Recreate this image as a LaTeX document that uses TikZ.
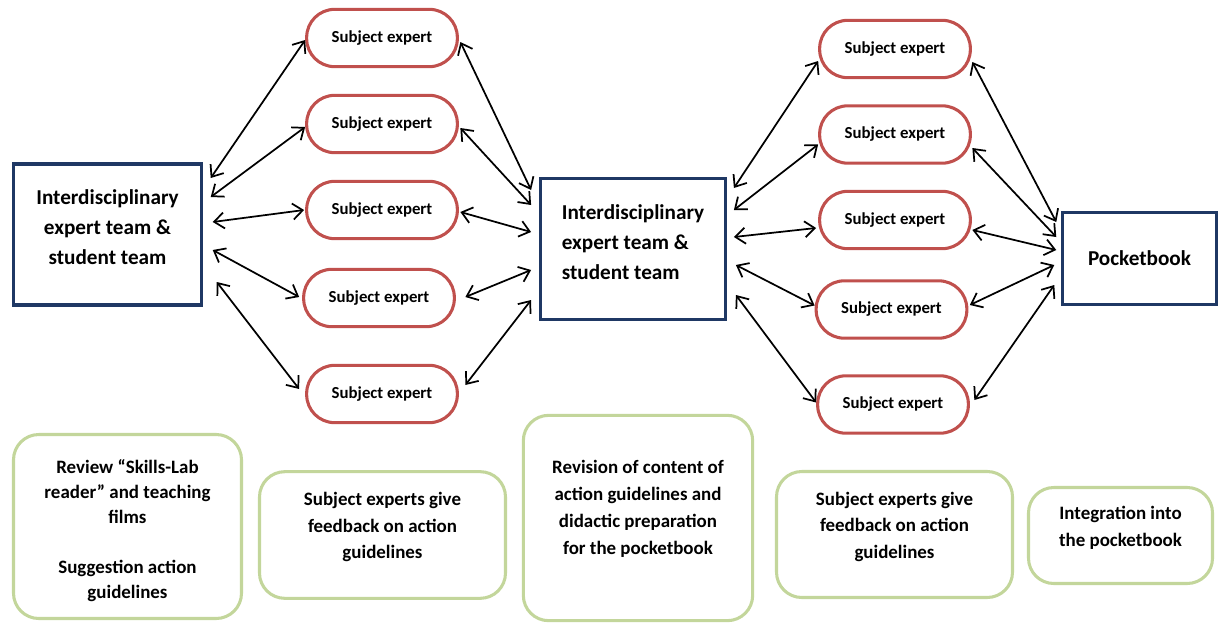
\documentclass[tikz,border=0pt]{standalone}
\usepackage{fontspec}
\setmainfont{Carlito}
\usetikzlibrary{arrows.meta,calc}

\definecolor{blu}{RGB}{31,56,100}
\definecolor{rosso}{RGB}{192,80,77}
\definecolor{verde}{RGB}{195,214,155}

\newcommand{\giu}{\rule[-14pt]{0pt}{14pt}}
\newcommand{\su}{\rule[-11pt]{0pt}{11pt}}

\tikzset{
  team/.style={draw=blu, line width=2.6pt, minimum width=141pt, minimum height=106pt,
    font=\fontsize{15.9}{22.5}\selectfont\bfseries},
  esperto/.style={draw=rosso, line width=2.3pt, rounded corners=21pt,
    minimum width=113pt, minimum height=43pt, font=\fontsize{12.6}{14}\selectfont\bfseries},
  fase/.style={draw=verde, line width=2.3pt, rounded corners=19pt, align=center,
    font=\fontsize{14.2}{20}\selectfont\bfseries},
  freccia/.style={line width=1.3pt,
    {Straight Barb[length=7.5pt,width=12pt]}-{Straight Barb[length=7.5pt,width=12pt]}}
}

\begin{document}
\begin{tikzpicture}[x=0.75pt, y=-0.75pt]
  \useasboundingbox (0,0) rectangle (1220,625);

  % gruppi di esperti
  \node[team, align=center] (L) at (107.5,234.5) {Interdisciplinary\\expert team \&\\student team\su};
  \node[team, align=left, minimum width=139pt] (M) at (633,249) {Interdisciplinary\\expert team \&\\student team\su};
  \node[team, minimum width=115.5pt, minimum height=69pt] (P) at (1139.5,258.5) {Pocketbook};

  % esperti a sinistra
  \node[esperto] (S1) at (382,38) {Subject expert};
  \node[esperto] (S2) at (382,124) {Subject expert};
  \node[esperto] (S3) at (382,210) {Subject expert};
  \node[esperto] (S4) at (379,298) {Subject expert};
  \node[esperto] (S5) at (382,394) {Subject expert};

  % esperti a destra
  \node[esperto] (R1) at (895,49) {Subject expert};
  \node[esperto] (R2) at (895,134.5) {Subject expert};
  \node[esperto] (R3) at (895,220) {Subject expert};
  \node[esperto] (R4) at (891.5,309.5) {Subject expert};
  \node[esperto] (R5) at (893,404.5) {Subject expert};

  % frecce L - esperti
  \draw[freccia] ($(L.east)+(7.5,-56.5)$) -- ($(S1.west)+(0,2)$);
  \draw[freccia] ($(L.east)+(7.5,-37.5)$) -- ($(S2.west)+(0,3)$);
  \draw[freccia] ($(L.east)+(9.5,-12.5)$) -- ($(S3.west)+(-1,0)$);
  \draw[freccia] ($(L.east)+(9.5,15.5)$) -- ($(S4.west)+(-3,-1)$);
  \draw[freccia] ($(L.east)+(13.5,47.5)$) -- ($(S5.west)+(-6,-5)$);

  % frecce esperti - M
  \draw[freccia] ($(S1.east)+(1.5,4)$) -- ($(M.west)+(-7.5,-59)$);
  \draw[freccia] ($(S2.east)+(1.5,4)$) -- ($(M.west)+(-7.5,-44)$);
  \draw[freccia] ($(S3.east)+(1.5,2)$) -- ($(M.west)+(-7.5,-17)$);
  \draw[freccia] ($(S4.east)+(9.5,-1)$) -- ($(M.west)+(-7.5,21)$);
  \draw[freccia] ($(S5.east)+(6.5,-9)$) -- ($(M.west)+(-7.5,51)$);

  % frecce M - esperti
  \draw[freccia] ($(M.east)+(6.5,-61)$) -- ($(R1.west)+(0,12)$);
  \draw[freccia] ($(M.east)+(6.5,-39)$) -- ($(R2.west)+(0,10)$);
  \draw[freccia] ($(M.east)+(6.5,-12)$) -- ($(R3.west)+(-2,8)$);
  \draw[freccia] ($(M.east)+(8.5,16)$) -- ($(R4.west)+(0,-4)$);
  \draw[freccia] ($(M.east)+(8.5,46)$) -- ($(R5.west)+(0,-2)$);

  % frecce esperti - P
  \draw[freccia] ($(R1.east)+(0.5,13)$) -- ($(P.west)+(-4.5,-36.5)$);
  \draw[freccia] ($(R2.east)+(0.5,13.5)$) -- ($(P.west)+(-4.5,-21.5)$);
  \draw[freccia] ($(R3.east)+(0.5,10)$) -- ($(P.west)+(-4.5,-8.5)$);
  \draw[freccia] ($(R4.east)+(1.5,-4.5)$) -- ($(P.west)+(-6.5,6.5)$);
  \draw[freccia] ($(R5.east)+(4.5,-4.5)$) -- ($(P.west)+(-6.5,26.5)$);

  % fasi
  \node[fase, minimum width=171pt, minimum height=138pt, font=\fontsize{14.2}{18.75}\selectfont\bfseries] (G1) at (127.5,526.5)
    {\rule{0pt}{16pt}Review “Skills-Lab\\reader” and teaching\\films\\[18.75pt]Suggestion action\\guidelines};
  \node[fase, minimum width=184.5pt, minimum height=95pt] (G2) at (382.5,535)
    {Subject experts give\\feedback on action\\guidelines\giu};
  \node[fase, minimum width=172pt, minimum height=154pt, font=\fontsize{14.2}{20.3}\selectfont\bfseries] (G3) at (638,518)
    {Revision of content of\\action guidelines and\\didactic preparation\\for the pocketbook\rule[-16pt]{0pt}{16pt}};
  \node[fase, minimum width=177pt, minimum height=94.5pt] (G4) at (894.5,534.5)
    {Subject experts give\\feedback on action\\guidelines\giu};
  \node[fase, minimum width=138pt, minimum height=72pt] (G5) at (1120.5,535.5)
    {Integration into\\the pocketbook\giu};
\end{tikzpicture}
\end{document}
